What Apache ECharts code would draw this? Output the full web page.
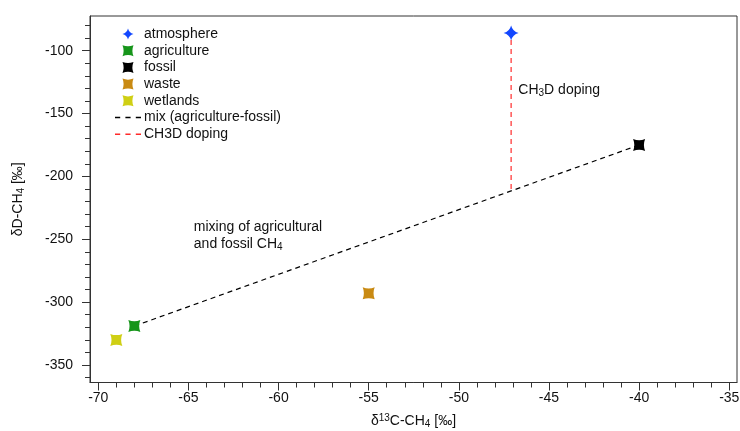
<!DOCTYPE html>
<html>
<head>
<meta charset="utf-8">
<script src="https://cdn.jsdelivr.net/npm/echarts@6/dist/echarts.min.js"></script>
<style>
  html, body { margin: 0; padding: 0; background: #fff; }
  #chart { width: 740px; height: 431px; }
</style>
</head>
<body>
<div id="chart"></div>
<script>
// Isotopic signatures of methane sources: δ13C-CH4 [‰] vs δD-CH4 [‰]
const sourceNames = ['atmosphere', 'agriculture', 'fossil', 'waste', 'wetlands'];
const sourceD13C = [-47.1, -68, -40, -55, -69];
const sourceDD = [-86, -319, -175, -293, -330];
const sourceColors = ['#1247ff', '#16951a', '#000000', '#c98a12', '#cfcf14'];

// mixing line between the agriculture and fossil end members
const mixD13C = [-68, -40];
const mixDD = [-319, -175];

// CH3D doping: from the mixing line up to the atmospheric value
const dopingD13C = [-47.1, -47.1];
const dopingDD = [-210, -86];

// text annotations, anchored at their left edge
const noteD13C = [-46.7, -64.7];
const noteDD = [-131, -247];
const noteTexts = ['CH{sub|3}D doping', 'mixing of agricultural\nand fossil CH{sub|4}'];

// axis ranges and tick labels
const xRange = [-70.46, -34.57];
const yRange = [-363.9, -72.4];
const xMajorTicks = [-70, -65, -60, -55, -50, -45, -40, -35];
const yMajorTicks = [-350, -300, -250, -200, -150, -100];
const xMinorStep = 1;
const yMinorStep = 10;

function minorTicks(range, step) {
  const out = [];
  for (let v = Math.ceil(range[0] / step) * step; v <= range[1]; v += step) out.push(v);
  return out;
}

const FONT = 'Liberation Sans';
const INK = '#111';
const FS = 14;
const starPath = 'path://M0,-10 Q2,-2 10,0 Q2,2 0,10 Q-2,2 -10,0 Q-2,-2 0,-10 Z';
const squarePath = 'path://M-10,-10 Q0,-6 10,-10 Q6,0 10,10 Q0,6 -10,10 Q-6,0 -10,-10 Z';
const dashIcon = 'path://M0,0h5v1.3h-5z M10,0h5v1.3h-5z M20,0h5v1.3h-5z';

const subRich = {
  sub: { fontSize: 10, fontFamily: FONT, color: INK, verticalAlign: 'bottom', padding: [6, 0, 0, 0] },
  sup: { fontSize: 10, fontFamily: FONT, color: INK, verticalAlign: 'top', padding: [0, 0, 6, 0] }
};

const series = [];
sourceNames.forEach((name, i) => {
  series.push({
    name: name,
    type: 'scatter',
    symbol: i === 0 ? starPath : squarePath,
    symbolSize: i === 0 ? 15 : 12,
    itemStyle: { color: sourceColors[i], opacity: 1 },
    data: [[sourceD13C[i], sourceDD[i]]],
    z: 5
  });
});

series.push({
  name: 'mix (agriculture-fossil)',
  type: 'line',
  symbol: 'none',
  lineStyle: { color: '#000', width: 1.2, type: [5, 4] },
  itemStyle: { color: '#000' },
  data: mixD13C.map((x, i) => [x, mixDD[i]]),
  z: 3
});

series.push({
  name: 'CH3D doping',
  type: 'line',
  symbol: 'none',
  lineStyle: { color: '#ff2a2a', width: 1.2, type: [5, 4] },
  itemStyle: { color: '#ff2a2a' },
  data: dopingD13C.map((x, i) => [x, dopingDD[i]]),
  z: 4
});

series.push({
  name: 'notes',
  type: 'scatter',
  symbolSize: 0,
  silent: true,
  itemStyle: { opacity: 1 },
  data: noteD13C.map((x, i) => ({ value: [x, noteDD[i]], label: { formatter: noteTexts[i] } })),
  label: {
    show: true,
    position: 'right',
    distance: 0,
    align: 'left',
    fontSize: FS,
    lineHeight: 17,
    fontFamily: FONT,
    color: INK,
    rich: subRich
  }
});

const axisLineStyle = { color: '#333', width: 1 };

function majorAxis(range, ticks, extra) {
  return Object.assign({
    type: 'value',
    min: range[0],
    max: range[1],
    splitLine: { show: false },
    axisLine: { onZero: false, lineStyle: axisLineStyle },
    axisTick: { show: true, length: 8, customValues: ticks, lineStyle: axisLineStyle },
    nameMoveOverlap: false
  }, extra);
}

function minorAxis(range, step, position) {
  return {
    type: 'value',
    position: position,
    min: range[0],
    max: range[1],
    splitLine: { show: false },
    axisLine: { show: false },
    axisLabel: { show: false },
    axisTick: { show: true, length: 5, customValues: minorTicks(range, step), lineStyle: axisLineStyle }
  };
}

const legendNames = sourceNames.map(n => ({ name: n }))
  .concat([{ name: 'mix (agriculture-fossil)', icon: dashIcon }, { name: 'CH3D doping', icon: dashIcon }]);

const chart = echarts.init(document.getElementById('chart'), null, { renderer: 'canvas' });
chart.setOption({
  animation: false,
  backgroundColor: '#fff',
  grid: {
    left: 90, top: 16, right: 3, bottom: 48.5,
    containLabel: false, outerBoundsMode: 'none',
    show: true, borderColor: '#333', borderWidth: 1
  },
  legend: {
    orient: 'vertical',
    left: 110,
    top: 22,
    itemWidth: 26,
    itemHeight: 11,
    itemGap: 2.7,
    textStyle: { fontSize: FS, lineHeight: 14, fontFamily: FONT, color: INK, padding: [0, 0, 0, -2] },
    data: legendNames
  },
  xAxis: [
    majorAxis(xRange, xMajorTicks, {
      position: 'bottom',
      axisLabel: { fontSize: FS, fontFamily: FONT, color: INK, margin: 8.5, customValues: xMajorTicks },
      name: 'δ{sup|13}C-CH{sub|4} [‰]',
      nameLocation: 'middle',
      nameGap: 31,
      nameTextStyle: { fontSize: FS, fontFamily: FONT, color: INK, rich: subRich }
    }),
    minorAxis(xRange, xMinorStep, 'bottom')
  ],
  yAxis: [
    majorAxis(yRange, yMajorTicks, {
      position: 'left',
      axisLabel: { fontSize: FS, fontFamily: FONT, color: INK, margin: 17, customValues: yMajorTicks },
      name: 'δD-CH{sub|4} [‰]',
      nameLocation: 'middle',
      nameGap: 64,
      nameRotate: 90,
      nameTextStyle: { fontSize: FS, fontFamily: FONT, color: INK, rich: subRich }
    }),
    minorAxis(yRange, yMinorStep, 'left')
  ],
  series: series
});
</script>
</body>
</html>
